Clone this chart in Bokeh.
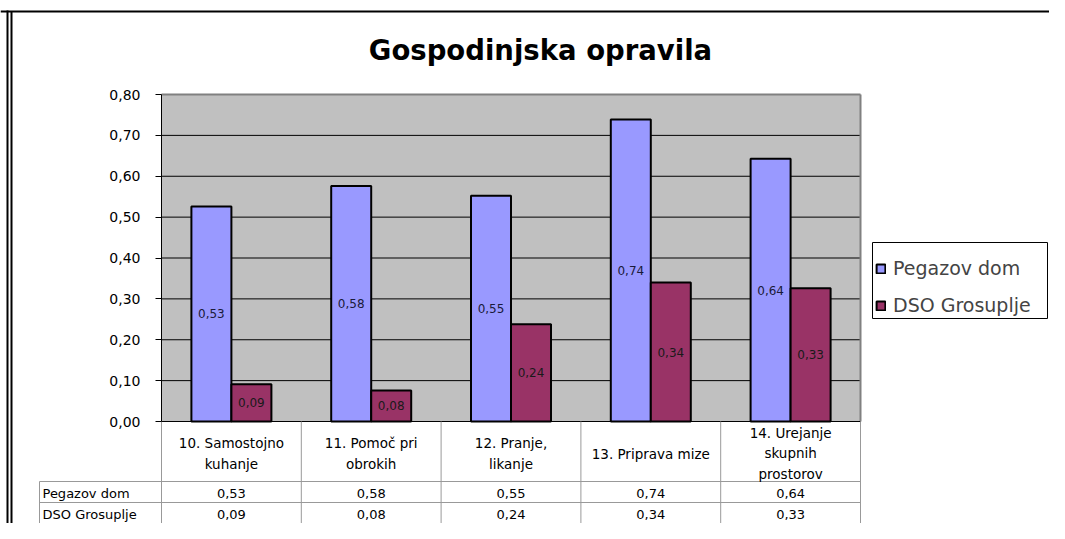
import numpy as np
from bokeh.plotting import figure
from bokeh.models import Range1d, LinearAxis, FixedTicker, CustomJSTickFormatter, Legend, LegendItem
from bokeh.core.properties import value
from bokeh.embed import file_html
from bokeh.resources import INLINE

# ---------------- data ----------------
TITLE = "Gospodinjska opravila"
CATEGORIES = ["10. Samostojno\nkuhanje", "11. Pomoč pri\nobrokih", "12. Pranje,\nlikanje",
              "13. Priprava mize", "14. Urejanje\nskupnih\nprostorov"]
SERIES = ["Pegazov dom", "DSO Grosuplje"]
PEGAZOV = [0.526, 0.576, 0.552, 0.739, 0.643]
DSO = [0.091, 0.076, 0.238, 0.340, 0.326]
Y_TICKS = [0.0, 0.1, 0.2, 0.3, 0.4, 0.5, 0.6, 0.7, 0.8]
COLORS = ["#9999FF", "#993366"]

# ---------------- layout (canvas pixels) ----------------
W, H = 1049, 523
PL, PR, PT, PB = 161, 860, 94, 421
N = len(CATEGORIES)
YMAX = Y_TICKS[-1]
KX = (PR - PL) / N
KY = (PB - PT) / YMAX


def xd(px):
    return (px - PL) / KX


def yd(py):
    return (PB - py) / KY


FONT = value("DejaVu Sans")
GRID_COL = "#999999"

p = figure(width=W, height=H,
           x_range=Range1d(xd(0), xd(W)),
           y_range=Range1d(yd(H), yd(0)),
           x_axis_type=None, y_axis_type=None,
           toolbar_location=None, output_backend="svg", min_border=0)
p.outline_line_color = None
p.background_fill_color = "white"
p.border_fill_color = "white"

# outer frame
p.segment(x0=[xd(0)], x1=[xd(W)], y0=[yd(11)], y1=[yd(11)], line_color="black", line_width=2)
p.segment(x0=[xd(11), xd(7)], x1=[xd(11), xd(7)], y0=[yd(11), yd(10)], y1=[yd(H), yd(H)],
          line_color="black", line_width=2)

# plot area
p.quad(left=[0], right=[N], bottom=[0], top=[YMAX], fill_color="#C0C0C0", line_color=None)
inner = Y_TICKS[1:-1]
p.segment(x0=[0] * len(inner), x1=[N] * len(inner), y0=inner, y1=inner, line_color="black", line_width=1)
p.segment(x0=[0], x1=[N], y0=[YMAX], y1=[YMAX], line_color="#808080", line_width=2)
p.segment(x0=[N], x1=[N], y0=[0], y1=[YMAX], line_color="#808080", line_width=2)

# bars
idx = np.arange(N)
BW = 40 / KX
x_peg = idx + 0.5 - BW / 2
x_dso = idx + 0.5 + BW / 2
r1 = p.vbar(x=x_peg, top=PEGAZOV, width=BW, bottom=0, fill_color=COLORS[0], line_color="black", line_width=2)
r2 = p.vbar(x=x_dso, top=DSO, width=BW, bottom=0, fill_color=COLORS[1], line_color="black", line_width=2)


def fmt(v):
    return f"{v:.2f}".replace(".", ",")


p.text(x=x_peg, y=[v / 2 for v in PEGAZOV], text=[fmt(v) for v in PEGAZOV],
       text_font=FONT, text_font_size="12px", text_color="#1a1a3a",
       text_align="center", text_baseline="middle")
p.text(x=x_dso, y=[v / 2 for v in DSO], text=[fmt(v) for v in DSO],
       text_font=FONT, text_font_size="12px", text_color="#1a1a1a",
       text_align="center", text_baseline="middle")

# x axis line
p.segment(x0=[0], x1=[N], y0=[0], y1=[0], line_color="black", line_width=1)

# y axis
yaxis = LinearAxis(fixed_location=0, bounds=(0, YMAX),
                   ticker=FixedTicker(ticks=Y_TICKS),
                   formatter=CustomJSTickFormatter(code="return tick.toFixed(2).replace('.', ',');"),
                   major_tick_in=0, major_tick_out=6, minor_tick_line_color=None,
                   axis_line_color="black", major_tick_line_color="black",
                   major_label_text_font="DejaVu Sans", major_label_text_font_size="14px",
                   major_label_text_color="black", major_label_standoff=15)
p.add_layout(yaxis, "left")

# data table
ROW1_TOP, ROW2_TOP, TBL_BOTTOM = 481, 502, H
LABEL_LEFT = 39
vx = list(range(N + 1))
p.segment(x0=vx, x1=vx, y0=[0] * len(vx), y1=[yd(TBL_BOTTOM)] * len(vx), line_color=GRID_COL, line_width=1)
p.segment(x0=[xd(LABEL_LEFT)], x1=[xd(LABEL_LEFT)], y0=[yd(ROW1_TOP)], y1=[yd(TBL_BOTTOM)],
          line_color=GRID_COL, line_width=1)
p.segment(x0=[xd(LABEL_LEFT)] * 2, x1=[N] * 2, y0=[yd(ROW1_TOP), yd(ROW2_TOP)], y1=[yd(ROW1_TOP), yd(ROW2_TOP)],
          line_color=GRID_COL, line_width=1)

p.text(x=idx + 0.5, y=[yd(453)] * N, text=CATEGORIES, text_font=FONT, text_font_size="13.5px",
       text_color="black", text_align="center", text_baseline="middle", text_line_height=1.28)
row_y = [yd((ROW1_TOP + ROW2_TOP) / 2 + 1), yd((ROW2_TOP + TBL_BOTTOM) / 2 + 1)]
p.text(x=[xd(42)] * 2, y=row_y, text=SERIES, text_font=FONT, text_font_size="13px",
       text_color="black", text_align="left", text_baseline="middle")
p.text(x=idx + 0.5, y=[row_y[0]] * N, text=[fmt(v) for v in PEGAZOV], text_font=FONT, text_font_size="13px",
       text_color="black", text_align="center", text_baseline="middle")
p.text(x=idx + 0.5, y=[row_y[1]] * N, text=[fmt(v) for v in DSO], text_font=FONT, text_font_size="13px",
       text_color="black", text_align="center", text_baseline="middle")

# title
p.text(x=[xd(540)], y=[yd(49)], text=[TITLE], text_font=FONT, text_font_size="27.5px",
       text_font_style="bold", text_color="black", text_align="center", text_baseline="middle")

# legend box + legend
p.quad(left=[xd(872)], right=[xd(1047)], top=[yd(242)], bottom=[yd(318)],
       fill_color="white", line_color="black", line_width=1)
legend = Legend(items=[LegendItem(label=SERIES[0], renderers=[r1]),
                       LegendItem(label=SERIES[1], renderers=[r2])],
                location=(875, H - 242 - 77), margin=0, padding=6, spacing=9,
                glyph_width=11, glyph_height=11, label_height=28, label_standoff=7,
                label_text_font="DejaVu Sans", label_text_font_size="19px",
                border_line_color=None, background_fill_alpha=0)
p.add_layout(legend)

open("out.html", "w").write(file_html(p, INLINE))
